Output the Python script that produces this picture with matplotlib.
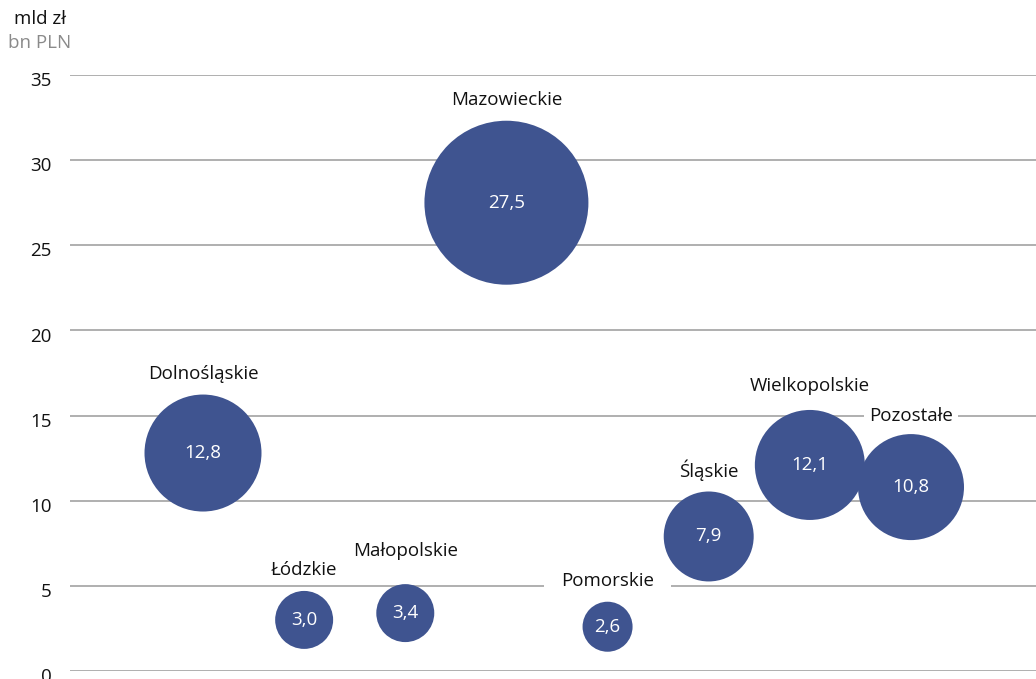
import matplotlib
matplotlib.use("Agg")
import matplotlib.pyplot as plt
import matplotlib.transforms as mtransforms
import numpy as np

plt.rcParams["font.family"] = ["Open Sans", "DejaVu Sans"]

# Regional values (mld zł) and relative bubble weights
regions = ["Dolnośląskie", "Łódzkie", "Małopolskie", "Mazowieckie",
           "Pomorskie", "Śląskie", "Wielkopolskie", "Pozostałe"]
values = [12.8, 3.0, 3.4, 27.5, 2.6, 7.9, 12.1, 10.8]
weights = [50.9, 12.5, 12.5, 100.0, 9.3, 30.1, 45.0, 41.8]
y_ticks = [0, 5, 10, 15, 20, 25, 30, 35]

BUBBLE = "#3F5490"
GRID = "#9A9A9A"
FS = 13.5

W, H, DPI = 1036, 679, 100
fig = plt.figure(figsize=(W / DPI, H / DPI), dpi=DPI)
ax = fig.add_axes([70 / W, 8 / H, 1 - 70 / W, (671 - 75) / H])

x = np.arange(1, len(regions) + 1)
sizes = np.array(weights) * 139.4
ax.scatter(x, values, s=sizes, color=BUBBLE, linewidths=0, zorder=3)

# value inside each bubble, region name above it on a white patch
# (patch sits under the bubbles but over the grid)
extra = {"Małopolskie": 9, "Wielkopolskie": 2, "Pozostałe": -2}
pads = {"Pomorskie": 0.9}
for xi, v, name, s in zip(x, values, regions, sizes):
    ax.text(xi, v, f"{v:.1f}".replace(".", ","), ha="center", va="center",
            color="white", fontsize=FS, zorder=4)
    off = np.sqrt(s) / 2 + 15 + extra.get(name, 0)
    ax.annotate(name, (xi, v), xytext=(0, off), textcoords="offset points",
                ha="center", va="center", fontsize=FS, color="#111111",
                bbox=dict(boxstyle=f"square,pad={pads.get(name, 0.28)}",
                          fc="white", ec="none"),
                zorder=2.5)

ax.set_xlim(-0.315, 9.236)
ax.set_ylim(0, 35)
ax.set_yticks(y_ticks)
ax.set_xticks([])
ax.tick_params(axis="y", length=0, pad=13, labelsize=FS, labelcolor="#111111")
shift = mtransforms.ScaledTranslation(0, -3 / 72, fig.dpi_scale_trans)
for lbl in ax.get_yticklabels():
    lbl.set_transform(lbl.get_transform() + shift)
ax.yaxis.grid(True, color=GRID, linewidth=1.1)
ax.set_axisbelow(True)
for sp in ax.spines.values():
    sp.set_visible(False)

fig.text(40 / W, 1 - 19 / H, "mld zł", ha="center", va="center",
         fontsize=FS, color="#111111")
fig.text(40 / W, 1 - 43 / H, "bn PLN", ha="center", va="center",
         fontsize=FS, color="#8A8A8A")

fig.savefig("out.png", dpi=DPI, facecolor="white")
